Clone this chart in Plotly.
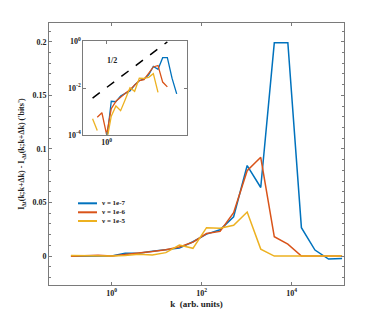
import plotly.graph_objects as go

# ---- data ----
k = [0.125, 0.25, 0.5, 1, 2, 4, 8, 16, 32, 64, 128, 256, 512, 1024,
     2048, 4096, 8192, 16384, 32768, 65536, 131072]
nu_1e7 = [-0.0001, -0.0001, -0.0001, 0.00005, 0.0027, 0.0026, 0.0045, 0.0059,
          0.0074, 0.0134, 0.0205, 0.0245, 0.0367, 0.0845, 0.064, 0.199, 0.199,
          0.0265, 0.0056, -0.0028, -0.0022]
nu_1e6 = [-0.0001, 0.00056, 0.00087, 0.0001, 0.0013, 0.0027, 0.0042, 0.0059,
          0.0085, 0.013, 0.021, 0.023, 0.0405, 0.0797, 0.0922, 0.018, 0.0112,
          0.0, 0.0, 0.0, 0.0]
nu_1e5 = [0.00048, 0.00015, -0.0002, 0.00005, 0.00062, 0.0017, 0.00107, 0.0032,
          0.0103, 0.0072, 0.0265, 0.0259, 0.0287, 0.0411, 0.0065, 0.0, 0.0,
          0.0, 0.0, 0.0, 0.0]
series_names = ["\u03bd = 1e-7", "\u03bd = 1e-6", "\u03bd = 1e-5"]
series_values = [nu_1e7, nu_1e6, nu_1e5]
colors = ["#0072BD", "#D95319", "#EDB120"]

# reference slope-1/2 line in the inset
ref_k = [0.125, 8192]
ref_coef = 0.0105
ref_slope = 0.5

FONT = "Liberation Serif"
AX = "#7a7a7a"

fig = go.Figure()
for name, vals, c in zip(series_names, series_values, colors):
    fig.add_trace(go.Scatter(x=k, y=vals, mode="lines", name=name,
                             line=dict(color=c, width=1.5),
                             xaxis="x", yaxis="y", showlegend=False))
for name, vals, c in zip(series_names, series_values, colors):
    fig.add_trace(go.Scatter(x=k, y=[v if v > 0 else None for v in vals],
                             mode="lines", line=dict(color=c, width=1.3),
                             xaxis="x2", yaxis="y2", showlegend=False,
                             connectgaps=False))
fig.add_trace(go.Scatter(x=ref_k, y=[ref_coef * kk ** ref_slope for kk in ref_k],
                         mode="lines", line=dict(color="black", width=1.5, dash="dash"),
                         xaxis="x2", yaxis="y2", showlegend=False))

tick_font = dict(family=FONT, size=8, color="#222", weight="bold")
common = dict(showline=True, linecolor=AX, linewidth=1, mirror="ticks",
              ticks="inside", ticklen=3, tickcolor=AX, showgrid=False,
              zeroline=False)

fig.update_layout(
    width=380, height=321,
    margin=dict(l=49, r=36, t=23, b=36),
    paper_bgcolor="white", plot_bgcolor="white",
    showlegend=False,
    xaxis=dict(type="log", range=[-1.39, 5.16], tickvals=[1, 100, 10000],
               ticktext=["10<sup>0</sup>", "10<sup>2</sup>", "10<sup>4</sup>"],
               tickfont=tick_font,
               title=dict(text="k\u00a0\u00a0(arb. units)", standoff=4,
                          font=dict(family=FONT, size=9, color="#222", weight="bold")),
               **common),
    yaxis=dict(range=[-0.027, 0.2175], tickmode="linear", tick0=0, dtick=0.05,
               tickfont=tick_font,
               minor=dict(tickmode="linear", tick0=0, dtick=0.01, ticks="inside",
                          ticklen=2, tickcolor=AX),
               title=dict(text="I<sub>\u0394t</sub>(k;k+\u0394k) - I<sub>-\u0394t</sub>(k;k+\u0394k) ('bits')",
                          standoff=6,
                          font=dict(family=FONT, size=8, color="#222", weight="bold")),
               **common),
    xaxis2=dict(domain=[0.1163, 0.4668], anchor="y2", type="log",
                range=[-1.5, 5.16], tickvals=[1], ticktext=["10<sup>0</sup>"],
                tickfont=dict(family=FONT, size=8, color="#222", weight="bold"),
                **common),
    yaxis2=dict(domain=[0.5737, 0.930], anchor="x2", type="log", range=[-4, 0],
                tickvals=[1e-4, 1e-2, 1],
                ticktext=["10<sup>-4</sup>", "10<sup>-2</sup>", "10<sup>0</sup>"],
                tickfont=dict(family=FONT, size=8, color="#222", weight="bold"),
                **common),
)

fig.add_annotation(x=0.32, y=-0.82, xref="x2", yref="y2", text="1/2",
                   showarrow=False,
                   font=dict(family=FONT, size=8, color="#222", weight="bold"))

# compact legend
leg_y = [0.3118, 0.2775, 0.2443]
for name, c, yy in zip(series_names, colors, leg_y):
    fig.add_shape(type="line", xref="paper", yref="paper", x0=0.0983, x1=0.1627,
                  y0=yy, y1=yy, line=dict(color=c, width=2))
    fig.add_annotation(x=0.1695, y=yy, xref="paper", yref="paper", text=name,
                       showarrow=False, xanchor="left", yanchor="middle",
                       font=dict(family=FONT, size=7, color="#222", weight="bold"))

fig.write_html("out.html", config={"displayModeBar": False},
               post_script="document.body.style.margin='0';document.body.style.overflow='hidden';")
